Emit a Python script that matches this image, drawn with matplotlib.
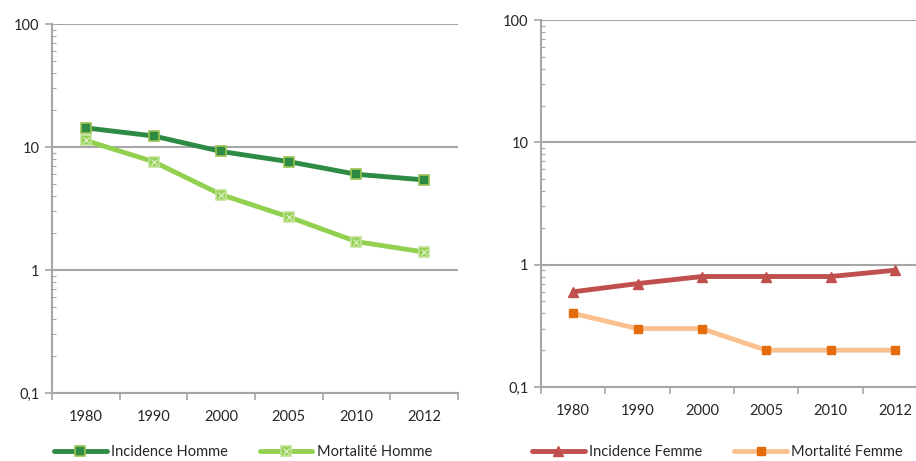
import numpy as np
import matplotlib.pyplot as plt
from matplotlib.ticker import FixedLocator, NullFormatter
from matplotlib.legend_handler import HandlerTuple

plt.rcParams['font.family'] = ['Lato', 'DejaVu Sans']

years = ["1980", "1990", "2000", "2005", "2010", "2012"]
incidence_homme = [14.3, 12.3, 9.2, 7.6, 6.0, 5.4]
mortalite_homme = [11.3, 7.6, 4.1, 2.7, 1.7, 1.4]
incidence_femme = [0.6, 0.7, 0.8, 0.8, 0.8, 0.9]
mortalite_femme = [0.4, 0.3, 0.3, 0.2, 0.2, 0.2]

ytick_vals = [0.1, 1, 10, 100]
ytick_labels = ["0,1", "1", "10", "100"]

grid_col = "#A6A6A6"
txt_col = "#262626"

fig = plt.figure(figsize=(9.16, 4.61), dpi=100)
W, H = 916, 461
ax1 = fig.add_axes([52 / W, (H - 393) / H, 406 / W, (393 - 24) / H])
ax2 = fig.add_axes([541 / W, (H - 387) / H, 386 / W, (387 - 20) / H])


def style(ax):
    x = np.arange(len(years))
    ax.set_yscale("log")
    ax.set_ylim(0.1, 100)
    ax.set_xlim(-0.5, len(years) - 0.5)
    ax.set_xticks(x)
    ax.set_xticklabels(years, fontsize=10.5, color=txt_col)
    ax.tick_params(axis="x", which="major", length=0, pad=12)
    ax.xaxis.set_minor_locator(FixedLocator(np.arange(-0.5, len(years), 1.0)))
    ax.tick_params(axis="x", which="minor", length=5, width=1.2, color=grid_col, direction="out")
    ax.yaxis.set_major_locator(FixedLocator(ytick_vals))
    ax.set_yticklabels(ytick_labels, fontsize=10.5, color=txt_col)
    ax.tick_params(axis="y", which="major", length=5, width=1.2, color=grid_col, direction="out", pad=4)
    ax.tick_params(axis="y", which="minor", length=3, width=0.8, color=grid_col, direction="in")
    ax.yaxis.set_minor_formatter(NullFormatter())
    ax.grid(True, axis="y", which="major", color=grid_col, linewidth=1.5)
    for s in ["top", "right"]:
        ax.spines[s].set_visible(False)
    for s in ["left", "bottom"]:
        ax.spines[s].set_color(grid_col)
        ax.spines[s].set_linewidth(1.5)
    ax.set_axisbelow(True)
    return x


x = style(ax1)
l1, = ax1.plot(x, incidence_homme, color="#2E8B43", lw=3.5, marker="s", ms=6.5,
               mfc="#2E8B43", mec="#9BC453", mew=1.2, solid_capstyle="round")
l2, = ax1.plot(x, mortalite_homme, color="#92D050", lw=3.5, marker="s", ms=6.5,
               mfc="#92D050", mec="#C5E39A", mew=1.2, solid_capstyle="round")
l2x, = ax1.plot(x, mortalite_homme, ls="none", marker="x", ms=5, mec="#D9EEC0", mew=1)

x = style(ax2)
l3, = ax2.plot(x, incidence_femme, color="#C0504D", lw=3.5, marker="^", ms=7,
               mfc="#C0504D", mec="#C0504D", solid_capstyle="round")
l4, = ax2.plot(x, mortalite_femme, color="#FAC090", lw=3.5, marker="s", ms=6,
               mfc="#E46C0A", mec="#E46C0A", solid_capstyle="round")

fig.legend([l1, (l2, l2x)], ["Incidence Homme", "Mortalité Homme"],
           loc="center left", bbox_to_anchor=(41 / W, 1 - 452 / H), ncol=2, frameon=False,
           fontsize=10.5, handlelength=3.6, columnspacing=2.2, handletextpad=0.3,
           handler_map={tuple: HandlerTuple(ndivide=1, pad=0)}, labelcolor=txt_col)
fig.legend([l3, l4], ["Incidence Femme", "Mortalité Femme"],
           loc="center left", bbox_to_anchor=(519 / W, 1 - 452 / H), ncol=2, frameon=False,
           fontsize=10.5, handlelength=3.6, columnspacing=2.2, handletextpad=0.3,
           labelcolor=txt_col)

fig.savefig("out.png", dpi=100)
